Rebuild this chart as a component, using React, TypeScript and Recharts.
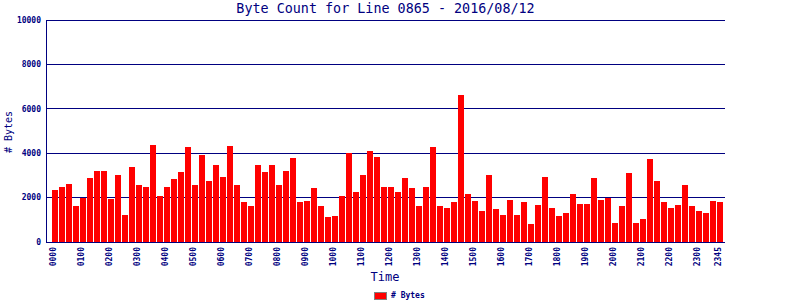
import React from "react";
import { BarChart, Bar, XAxis, YAxis, CartesianGrid } from "recharts";

const NAVY = "#000080";
const MONO = "'DejaVu Sans Mono', 'Liberation Mono', monospace";

// 15-minute slots for the day
const times = [
  "0000", "0015", "0030", "0045", "0100", "0115", "0130", "0145",
  "0200", "0215", "0230", "0245", "0300", "0315", "0330", "0345",
  "0400", "0415", "0430", "0445", "0500", "0515", "0530", "0545",
  "0600", "0615", "0630", "0645", "0700", "0715", "0730", "0745",
  "0800", "0815", "0830", "0845", "0900", "0915", "0930", "0945",
  "1000", "1015", "1030", "1045", "1100", "1115", "1130", "1145",
  "1200", "1215", "1230", "1245", "1300", "1315", "1330", "1345",
  "1400", "1415", "1430", "1445", "1500", "1515", "1530", "1545",
  "1600", "1615", "1630", "1645", "1700", "1715", "1730", "1745",
  "1800", "1815", "1830", "1845", "1900", "1915", "1930", "1945",
  "2000", "2015", "2030", "2045", "2100", "2115", "2130", "2145",
  "2200", "2215", "2230", "2245", "2300", "2315", "2330", "2345",
];

const bytes = [
  2360, 2500, 2630, 1640, 2000, 2900, 3220, 3220,
  1950, 3040, 1230, 3400, 2590, 2500, 4390, 2090,
  2500, 2860, 3170, 4280, 2590, 3940, 2770, 3490,
  2950, 4340, 2550, 1780, 1600, 3490, 3170, 3490,
  2550, 3220, 3800, 1820, 1860, 2450, 1640, 1140,
  1190, 2090, 4000, 2270, 3040, 4120, 3850, 2500,
  2500, 2270, 2900, 2450, 1640, 2500, 4280, 1600,
  1550, 1780, 6600, 2180, 1860, 1410, 3040, 1500,
  1230, 1910, 1230, 1780, 830, 1680, 2950, 1550,
  1190, 1320, 2180, 1730, 1730, 2900, 1910, 1970,
  870, 1600, 3130, 870, 1050, 3760, 2770, 1820,
  1550, 1680, 2550, 1640, 1410, 1320, 1860, 1780,
];

const xTickLabels = [
  "0000", "0100", "0200", "0300", "0400", "0500", "0600", "0700",
  "0800", "0900", "1000", "1100", "1200", "1300", "1400", "1500",
  "1600", "1700", "1800", "1900", "2000", "2100", "2200", "2300", "2345",
];

const yTicks = [0, 2000, 4000, 6000, 8000, 10000];

const data = times.map((t, i) => ({ time: t, bytes: bytes[i] }));

const XTick = (props: any) => {
  const { x, y, payload } = props;
  if (!xTickLabels.includes(payload.value)) return null;
  return (
    <text
      x={x}
      y={y}
      transform={`rotate(-90 ${x} ${y})`}
      textAnchor="end"
      dy="0.3em"
      fill={NAVY}
      fontFamily={MONO}
      fontWeight="bold"
      fontSize={8}
    >
      {payload.value}
    </text>
  );
};

export default function App() {
  return (
    <div
      style={{
        position: "absolute",
        left: 0,
        top: 0,
        width: 800,
        height: 300,
        background: "#fff",
      }}
    >
      <style>{`
        .recharts-cartesian-grid line,
        .recharts-cartesian-axis-line,
        .recharts-rectangle { shape-rendering: crispEdges; }
      `}</style>
      <div
        style={{
          position: "absolute",
          left: 46,
          top: 0,
          width: 679,
          textAlign: "center",
          fontFamily: MONO,
          fontSize: 13.4,
          lineHeight: "17px",
          color: NAVY,
          whiteSpace: "nowrap",
        }}
      >
        Byte Count for Line 0865 - 2016/08/12
      </div>
      <BarChart
        width={800}
        height={300}
        data={data}
        margin={{ top: 20, right: 75, left: 0, bottom: 0 }}
        barCategoryGap={0}
      >
        <CartesianGrid vertical={false} stroke={NAVY} />
        <XAxis
          dataKey="time"
          height={58}
          interval={0}
          padding={{ left: 4.5, right: 2.5 }}
          tick={<XTick />}
          tickLine={false}
          tickSize={0}
          tickMargin={5}
          axisLine={{ stroke: NAVY }}
        />
        <YAxis
          width={46}
          domain={[0, 10000]}
          ticks={yTicks}
          tickLine={false}
          tickSize={0}
          tickMargin={5}
          axisLine={{ stroke: NAVY }}
          tick={{ fill: NAVY, fontFamily: MONO, fontWeight: "bold", fontSize: 8 }}
        />
        <YAxis
          yAxisId="right"
          orientation="right"
          width={0}
          domain={[0, 10000]}
          tick={false}
          tickLine={false}
          axisLine={{ stroke: NAVY }}
        />
        <Bar dataKey="bytes" fill="#ff0000" barSize={6} isAnimationActive={false} />
      </BarChart>
      <div
        style={{
          position: "absolute",
          left: 8,
          top: 132,
          transform: "translate(-50%, -50%) rotate(-90deg)",
          fontFamily: MONO,
          fontSize: 10,
          color: NAVY,
          whiteSpace: "nowrap",
        }}
      >
        # Bytes
      </div>
      <div
        style={{
          position: "absolute",
          left: 385,
          top: 277,
          transform: "translate(-50%, -50%)",
          fontFamily: MONO,
          fontSize: 12,
          color: NAVY,
          whiteSpace: "nowrap",
        }}
      >
        Time
      </div>
      <div
        style={{
          position: "absolute",
          left: 374,
          top: 291,
          height: 9,
          display: "flex",
          alignItems: "center",
          fontFamily: MONO,
          fontSize: 8,
          fontWeight: "bold",
          color: NAVY,
          whiteSpace: "nowrap",
        }}
      >
        <span
          style={{
            display: "inline-block",
            boxSizing: "border-box",
            width: 13,
            height: 8,
            background: "#ff0000",
            border: "1px solid #808080",
            marginRight: 4,
          }}
        />
        # Bytes
      </div>
    </div>
  );
}
